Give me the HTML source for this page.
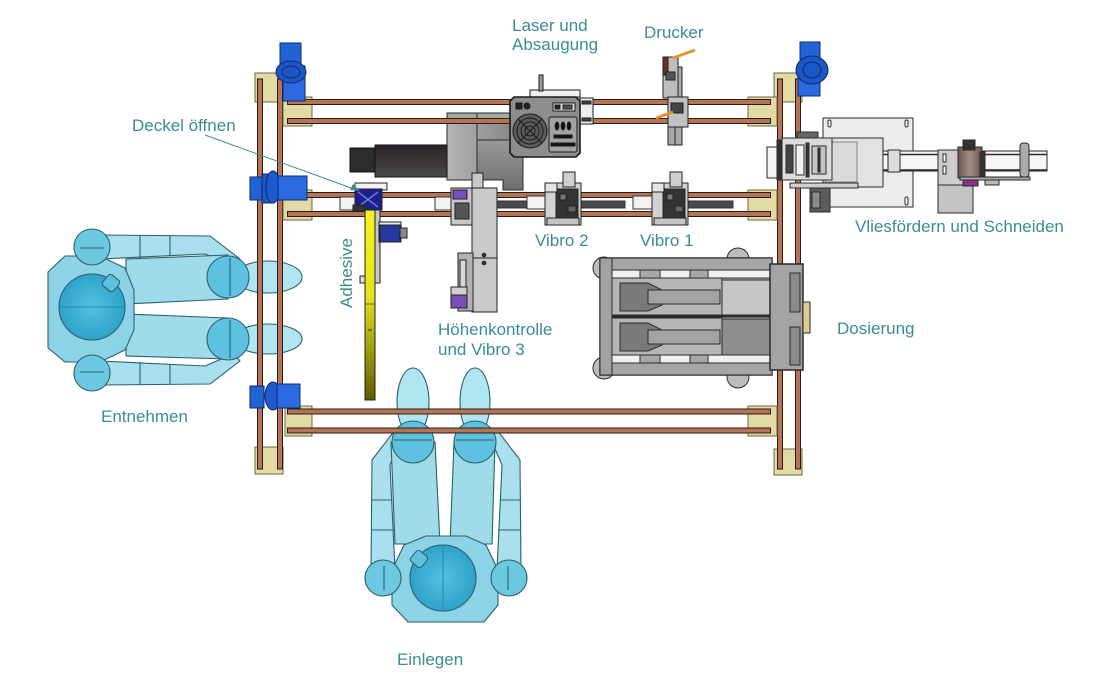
<!DOCTYPE html>
<html><head><meta charset="utf-8">
<style>
html,body{margin:0;padding:0;background:#fff;}
svg{display:block;}
text{font-family:"Liberation Sans",Arial,sans-serif;font-size:17px;fill:#3b8d8e;}
</style></head><body>
<svg width="1113" height="684" viewBox="0 0 1113 684" xmlns="http://www.w3.org/2000/svg">
<defs>
 <linearGradient id="yel" x1="0" y1="0" x2="0" y2="1">
  <stop offset="0" stop-color="#f6f41e"/>
  <stop offset="0.45" stop-color="#e6e21c"/>
  <stop offset="1" stop-color="#5e5c00"/>
 </linearGradient>
 <linearGradient id="cyl" x1="0" y1="0" x2="0" y2="1">
  <stop offset="0" stop-color="#2a2228"/>
  <stop offset="1" stop-color="#4a4a4a"/>
 </linearGradient>
 <linearGradient id="gblk" x1="0" y1="0" x2="1" y2="0">
  <stop offset="0" stop-color="#b4b4b4"/>
  <stop offset="1" stop-color="#8a8a8a"/>
 </linearGradient>
 <linearGradient id="gdark" x1="0" y1="0" x2="0" y2="1">
  <stop offset="0" stop-color="#9a9a9a"/>
  <stop offset="1" stop-color="#6e6e6e"/>
 </linearGradient>
 <radialGradient id="head" cx="0.5" cy="0.5" r="0.5">
  <stop offset="0" stop-color="#52c4e2"/>
  <stop offset="1" stop-color="#2ea2c8"/>
 </radialGradient>
 <linearGradient id="roll" x1="0" y1="0" x2="1" y2="0">
  <stop offset="0" stop-color="#6e5550"/>
  <stop offset="0.5" stop-color="#a58c84"/>
  <stop offset="1" stop-color="#6e5550"/>
 </linearGradient>
</defs>

<!-- ===== LEFT HUMAN ===== -->
<g stroke="#2c5f6d" stroke-width="1.1" stroke-linejoin="round">
 <path d="M100 235 L210 236 L240 259 L233 266 L205 254 L100 259 Z" fill="#aae0ee"/>
 <path d="M100 385 L210 384 L240 361 L233 354 L205 366 L100 361 Z" fill="#aae0ee"/>
 <line x1="140" y1="236" x2="140" y2="258" /><line x1="170" y1="236" x2="170" y2="256"/>
 <line x1="140" y1="362" x2="140" y2="384" /><line x1="170" y1="364" x2="170" y2="384"/>
 <ellipse cx="268" cy="277" rx="34" ry="16" fill="#b0e5f2"/>
 <ellipse cx="268" cy="339" rx="34" ry="15" fill="#b0e5f2"/>
 <path d="M126 259 L228 255 L228 299 L126 304 Z" fill="#a0dbea"/>
 <path d="M126 314 L228 318 L228 359 L126 356 Z" fill="#a0dbea"/>
 <circle cx="228" cy="277" r="21" fill="#5cc2df"/>
 <circle cx="228" cy="339" r="21" fill="#5cc2df"/>
 <line x1="230" y1="258" x2="230" y2="296"/><line x1="230" y1="320" x2="230" y2="358"/>
 <path d="M48 272 L65 256 L100 256 L125 268 L134 290 L134 330 L125 350 L100 362 L65 362 L48 348 Z" fill="#8cd3e7"/>
 <circle cx="92" cy="247" r="18" fill="#6cc7e1"/>
 <circle cx="92" cy="373" r="18" fill="#6cc7e1"/>
 <line x1="80" y1="248" x2="104" y2="248"/><line x1="80" y1="372" x2="104" y2="372"/>
 <circle cx="92" cy="307" r="33" fill="url(#head)"/>
 <rect x="104" y="276" width="14" height="14" rx="3" fill="#5cc2de" transform="rotate(40 111 283)"/>
 <line x1="60" y1="307" x2="124" y2="307" stroke="#2a7d9a" stroke-width="2" opacity="0.4"/>
</g>

<!-- ===== BOTTOM HUMAN ===== -->
<g transform="translate(443,578) rotate(-90) translate(-92,-307)" stroke="#2c5f6d" stroke-width="1.1" stroke-linejoin="round">
 <path d="M100 235 L210 236 L240 259 L233 266 L205 254 L100 259 Z" fill="#aae0ee"/>
 <path d="M100 385 L210 384 L240 361 L233 354 L205 366 L100 361 Z" fill="#aae0ee"/>
 <line x1="140" y1="236" x2="140" y2="258" /><line x1="170" y1="236" x2="170" y2="256"/>
 <line x1="140" y1="362" x2="140" y2="384" /><line x1="170" y1="364" x2="170" y2="384"/>
 <ellipse cx="268" cy="277" rx="34" ry="16" fill="#b0e5f2"/>
 <ellipse cx="268" cy="339" rx="34" ry="15" fill="#b0e5f2"/>
 <path d="M126 259 L228 255 L228 299 L126 304 Z" fill="#a0dbea"/>
 <path d="M126 314 L228 318 L228 359 L126 356 Z" fill="#a0dbea"/>
 <circle cx="228" cy="277" r="21" fill="#5cc2df"/>
 <circle cx="228" cy="339" r="21" fill="#5cc2df"/>
 <line x1="230" y1="258" x2="230" y2="296"/><line x1="230" y1="320" x2="230" y2="358"/>
 <path d="M48 272 L65 256 L100 256 L125 268 L134 290 L134 330 L125 350 L100 362 L65 362 L48 348 Z" fill="#8cd3e7"/>
 <circle cx="92" cy="247" r="18" fill="#6cc7e1"/>
 <circle cx="92" cy="373" r="18" fill="#6cc7e1"/>
 <line x1="80" y1="248" x2="104" y2="248"/><line x1="80" y1="372" x2="104" y2="372"/>
 <circle cx="92" cy="307" r="33" fill="url(#head)"/>
 <rect x="104" y="276" width="14" height="14" rx="3" fill="#5cc2de" transform="rotate(40 111 283)"/>
 <line x1="60" y1="307" x2="124" y2="307" stroke="#2a7d9a" stroke-width="2" opacity="0.4"/>
</g>

<!-- ===== LASER BACK BLOCK & CYLINDER ===== -->
<g stroke="#2a2a2a" stroke-width="1">
 <rect x="447" y="113" width="63" height="67" fill="url(#gblk)"/>
 <rect x="447" y="113" width="63" height="9" fill="#a4aa9e"/>
 <line x1="477" y1="113" x2="477" y2="180"/>
 <path d="M477 140 H523 V190 H503 V180 H477 Z" fill="url(#gdark)"/>
 <rect x="350" y="148" width="26" height="24" fill="#2c2c2c" stroke="#111"/>
 <rect x="375" y="145" width="72" height="32" fill="url(#cyl)" stroke="#111"/>
</g>

<!-- ===== FRAME ===== -->
<g stroke="#6a6440" stroke-width="1" fill="#e2dba4">
 <rect x="255" y="73" width="28" height="29"/>
 <rect x="255" y="447" width="28" height="27"/>
 <rect x="774" y="73" width="28" height="29"/>
 <rect x="774" y="449" width="28" height="26"/>
</g>
<g stroke="#2b1a10" stroke-width="1" fill="#b47458">
 <rect x="257.5" y="79" width="5" height="390"/>
 <rect x="277.5" y="79" width="5" height="390"/>
 <rect x="777.5" y="79" width="5" height="390"/>
 <rect x="795.5" y="79" width="5" height="390"/>
</g>
<g stroke="#6a6440" stroke-width="1" fill="#e2dba4">
 <rect x="283" y="97" width="29" height="29"/>
 <rect x="283" y="190" width="29" height="30"/>
 <rect x="285" y="406" width="27" height="30"/>
 <rect x="748" y="97" width="29" height="29"/>
 <rect x="748" y="190" width="29" height="30"/>
 <rect x="748" y="406" width="29" height="30"/>
</g>
<g stroke="#2b1a10" stroke-width="1" fill="#b47458">
 <rect x="287.5" y="99.5" width="483" height="5"/>
 <rect x="287.5" y="118.5" width="483" height="5"/>
 <rect x="287.5" y="192.5" width="483" height="5"/>
 <rect x="287.5" y="211.5" width="483" height="5"/>
 <rect x="287.5" y="409" width="483" height="5"/>
 <rect x="287.5" y="428" width="483" height="5"/>
</g>

<!-- ===== BLUE MOTORS ===== -->
<g stroke="#0b2a6e" stroke-width="1">
 <rect x="280" y="43" width="21" height="22" fill="#2263d4"/>
 <rect x="283" y="66" width="22" height="35" fill="#2c6ae0"/>
 <ellipse cx="291" cy="72" rx="15" ry="11" fill="#1d57c6"/>
 <ellipse cx="291" cy="72" rx="9" ry="6" fill="none"/>
 <rect x="250" y="177" width="12" height="23" fill="#2263d4"/>
 <rect x="262" y="174" width="12" height="29" fill="#1d57c6"/>
 <ellipse cx="273" cy="187" rx="7" ry="16" fill="#1f5bcc"/>
 <rect x="278" y="176" width="29" height="24" fill="#2c6ae0"/>
 <rect x="250" y="386" width="14" height="22" fill="#2263d4"/>
 <ellipse cx="273" cy="396" rx="8" ry="14" fill="#1f5bcc"/>
 <rect x="277" y="384" width="23" height="24" fill="#2c6ae0"/>
 <rect x="800" y="42" width="20" height="24" fill="#2263d4"/>
 <rect x="798" y="68" width="22" height="28" fill="#2c6ae0"/>
 <ellipse cx="812" cy="70" rx="16" ry="14" fill="#1d57c6"/>
 <ellipse cx="812" cy="70" rx="9" ry="8" fill="none"/>
</g>

<!-- ===== MIDDLE RAIL COMPONENTS ===== -->
<g stroke="#333" stroke-width="1">
 <rect x="497" y="201" width="48" height="7" fill="#4a4a4a"/>
 <rect x="580" y="201" width="45" height="7" fill="#4a4a4a"/>
 <rect x="687" y="201" width="46" height="7" fill="#4a4a4a"/>
 <rect x="340" y="197" width="15" height="13" fill="#f2f2f2"/>
 <rect x="435" y="197" width="18" height="13" fill="#f2f2f2"/>
 <rect x="633" y="196" width="19" height="13" fill="#f2f2f2"/>
 <rect x="527" y="196" width="18" height="13" fill="#f2f2f2"/>
</g>

<!-- Vibro 2 -->
<g stroke="#222" stroke-width="1">
 <rect x="545" y="183" width="36" height="42" fill="#d2d2d2"/>
 <rect x="563" y="172" width="12" height="15" fill="#cfcfcf"/>
 <rect x="556" y="189" width="22" height="29" fill="#333"/>
 <rect x="545" y="183" width="12" height="9" fill="#e4e4e4"/>
 <rect x="560" y="194" width="6" height="6" fill="#777"/>
 <rect x="568" y="206" width="8" height="6" fill="#666"/>
 <rect x="547" y="218" width="32" height="7" fill="#c4c4c4"/>
</g>
<!-- Vibro 1 -->
<g stroke="#222" stroke-width="1">
 <rect x="652" y="183" width="36" height="42" fill="#d2d2d2"/>
 <rect x="670" y="172" width="12" height="15" fill="#cfcfcf"/>
 <rect x="663" y="189" width="22" height="29" fill="#333"/>
 <rect x="652" y="183" width="12" height="9" fill="#e4e4e4"/>
 <rect x="667" y="194" width="6" height="6" fill="#777"/>
 <rect x="675" y="206" width="8" height="6" fill="#666"/>
 <rect x="654" y="218" width="32" height="7" fill="#c4c4c4"/>
</g>

<!-- Höhenkontrolle / Vibro 3 -->
<g stroke="#222" stroke-width="1">
 <rect x="451" y="188" width="22" height="37" fill="#c8c8c8"/>
 <rect x="453" y="190" width="14" height="9" fill="#7650b8"/>
 <rect x="455" y="203" width="14" height="16" fill="#555"/>
 <rect x="472" y="173" width="11" height="15" fill="#c8c8c8"/>
 <rect x="472" y="188" width="25" height="124" fill="#c9c9c9"/>
 <line x1="472" y1="258" x2="497" y2="258"/>
 <circle cx="484" cy="255" r="1.8" fill="#333"/>
 <circle cx="484" cy="263" r="1.8" fill="#333"/>
 <rect x="458" y="253" width="15" height="58" fill="#b2b2b2"/>
 <rect x="460" y="260" width="6" height="28" fill="#d8d8d8"/>
 <rect x="451" y="287" width="16" height="21" fill="#7650b8"/>
 <rect x="451" y="287" width="16" height="8" fill="#d0d0d0"/>
</g>

<!-- Adhesive -->
<g stroke="#222" stroke-width="1">
 <rect x="375" y="210" width="5" height="73" fill="#c8c8c8"/>
 <rect x="365" y="210" width="10" height="190" fill="url(#yel)"/>
 <line x1="365" y1="304" x2="375" y2="304" stroke="#6a6a00"/>
 <line x1="368" y1="330" x2="372" y2="330"/>
 <rect x="360" y="276" width="5" height="7" fill="#ddd"/>
 <rect x="355" y="183" width="32" height="7" fill="#f3f3f3"/>
 <rect x="355" y="189" width="27" height="21" fill="#1e1e8c"/>
 <path d="M358 192 L378 207 M378 192 L358 207" stroke="#6a7ad8" stroke-width="1.5"/>
 <rect x="379" y="222" width="22" height="20" fill="#f0f0f0"/>
 <rect x="380" y="225" width="20" height="17" fill="#2738a0"/>
 <rect x="400" y="228" width="7" height="10" fill="#888"/>
 <rect x="353" y="205" width="12" height="6" fill="#333"/>
</g>

<!-- ===== LASER BOX ===== -->
<g stroke="#1a1a1a" stroke-width="1">
 <rect x="530" y="90" width="50" height="7" fill="#f0f0f0"/>
 <rect x="539" y="75" width="4" height="16" fill="#9a9a9a"/>
 <rect x="580" y="98" width="13" height="26" fill="#eeeeee"/>
 <rect x="582" y="101" width="9" height="3" fill="#444"/>
 <rect x="582" y="118" width="9" height="3" fill="#444"/>
 <path d="M514 97 H576 L580 101 V153 L576 157 H514 L510 153 V101 Z" fill="#8d8d8d" stroke-width="1.6"/>
 <circle cx="530" cy="131" r="17" fill="#5a5a5a"/>
 <circle cx="530" cy="131" r="13" fill="none"/>
 <circle cx="530" cy="131" r="9" fill="none"/>
 <circle cx="530" cy="131" r="5" fill="none"/>
 <path d="M518 119 L542 143 M542 119 L518 143"/>
 <rect x="549" y="117" width="28" height="35" rx="2" fill="#a2a2a2"/>
 <ellipse cx="557" cy="126" rx="1.8" ry="4" fill="#111"/>
 <ellipse cx="563" cy="126" rx="1.8" ry="4" fill="#111"/>
 <ellipse cx="569" cy="126" rx="1.8" ry="4" fill="#111"/>
 <rect x="554" y="135" width="18" height="3" fill="#111"/>
 <rect x="551" y="143" width="24" height="3" fill="#111"/>
 <rect x="516" y="103" width="6" height="6" fill="#222"/>
 <circle cx="527" cy="106" r="3" fill="#222"/>
 <rect x="553" y="103" width="22" height="8" fill="#ddd"/>
 <rect x="555" y="105" width="5" height="4" fill="#222"/>
 <rect x="563" y="105" width="9" height="4" fill="#555"/>
</g>

<!-- ===== DRUCKER ===== -->
<g stroke="#222" stroke-width="1">
 <rect x="668" y="67" width="14" height="78" fill="#a9a9a9"/>
 <line x1="675" y1="67" x2="675" y2="145"/>
 <rect x="663" y="57" width="15" height="41" fill="#bdbdbd"/>
 <rect x="663" y="57" width="5" height="18" fill="#6a3020"/>
 <rect x="666" y="72" width="9" height="8" fill="#555"/>
 <rect x="668" y="97" width="20" height="30" fill="#c2c2c2"/>
 <rect x="671" y="103" width="12" height="10" fill="#444"/>
 <line x1="673" y1="58" x2="695" y2="50" stroke="#e0962a" stroke-width="3"/>
 <line x1="656" y1="118" x2="673" y2="112" stroke="#e0962a" stroke-width="3"/>
</g>

<!-- ===== DOSIERUNG ===== -->
<g stroke="#2a2a2a" stroke-width="1">
 <circle cx="604" cy="268" r="11" fill="#bcbcbc"/>
 <circle cx="604" cy="368" r="11" fill="#bcbcbc"/>
 <circle cx="738" cy="259" r="11" fill="#bcbcbc"/>
 <circle cx="738" cy="377" r="11" fill="#bcbcbc"/>
 <rect x="600" y="258" width="172" height="117" fill="#b0b0b0" stroke-width="1.5"/>
 <rect x="600" y="258" width="172" height="12" fill="#a6a6a6"/>
 <rect x="600" y="363" width="172" height="12" fill="#a6a6a6"/>
 <rect x="612" y="270" width="158" height="8" fill="#f0f0f0"/>
 <rect x="612" y="355" width="158" height="8" fill="#f0f0f0"/>
 <rect x="640" y="270" width="20" height="8" fill="#a8a8a8"/>
 <rect x="690" y="270" width="18" height="8" fill="#a8a8a8"/>
 <rect x="640" y="355" width="20" height="8" fill="#a8a8a8"/>
 <rect x="690" y="355" width="18" height="8" fill="#a8a8a8"/>
 <rect x="600" y="258" width="12" height="117" fill="#a2a2a2"/>
 <rect x="612" y="278" width="110" height="37" fill="#b6b6b6"/>
 <rect x="612" y="318" width="110" height="37" fill="#b6b6b6"/>
 <path d="M620 283 H648 L662 290 V305 L648 311 H620 Z" fill="#7a7a7a"/>
 <path d="M620 323 H648 L662 330 V345 L648 351 H620 Z" fill="#7a7a7a"/>
 <rect x="648" y="290" width="72" height="14" fill="#a4a4a4"/>
 <rect x="648" y="330" width="72" height="14" fill="#a4a4a4"/>
 <rect x="722" y="280" width="48" height="35" fill="#c6c6c6"/>
 <rect x="722" y="319" width="48" height="36" fill="#8e8e8e"/>
 <line x1="612" y1="316.5" x2="770" y2="316.5" stroke-width="2"/>
 <rect x="770" y="264" width="33" height="106" fill="#a4a4a4" stroke-width="1.5"/>
 <rect x="790" y="273" width="10" height="39" fill="#8a8a8a"/>
 <rect x="790" y="327" width="10" height="38" fill="#8a8a8a"/>
 <rect x="803" y="302" width="7" height="31" fill="#d8cf8c"/>
</g>

<!-- ===== VLIESFÖRDERN ===== -->
<g stroke="#2a2a2a" stroke-width="1">
 <rect x="823" y="118" width="90" height="89" fill="#ececec"/>
 <rect x="828" y="120" width="3" height="7" rx="1.5" fill="#fff"/>
 <rect x="905" y="120" width="3" height="7" rx="1.5" fill="#fff"/>
 <rect x="905" y="197" width="3" height="8" rx="1.5" fill="#fff"/>
 <rect x="823" y="138" width="60" height="49" fill="#e2e2e2"/>
 <rect x="825" y="142" width="32" height="40" fill="#dadada" stroke="#888"/>
 <rect x="883" y="151" width="164" height="20" fill="#f6f6f6"/>
 <line x1="883" y1="154.5" x2="1047" y2="154.5" stroke-width="1.5"/>
 <line x1="883" y1="170" x2="1047" y2="170" stroke-width="1.5"/>
 <rect x="888" y="150" width="12" height="22" fill="#ddd"/>
 <rect x="938" y="150" width="35" height="63" fill="#cdcdcd"/>
 <rect x="938" y="185" width="35" height="28" fill="#c4c4c4"/>
 <rect x="943" y="154" width="3" height="8" fill="#fff"/>
 <rect x="943" y="166" width="3" height="8" fill="#fff"/>
 <rect x="958" y="147" width="24" height="31" fill="url(#roll)"/>
 <rect x="963" y="140" width="12" height="10" fill="#333"/>
 <rect x="980" y="152" width="5" height="24" fill="#333"/>
 <rect x="960" y="177" width="70" height="3" fill="#aaa"/>
 <rect x="963" y="180" width="15" height="6" fill="#8a2f8a"/>
 <rect x="985" y="180" width="14" height="5" fill="#bbb"/>
 <rect x="1020" y="143" width="9" height="34" rx="3" fill="#aaaaaa"/>
 <!-- left assembly -->
 <rect x="767" y="147" width="13" height="31" fill="#f4f4f4"/>
 <rect x="777" y="140" width="4" height="40" fill="#333"/>
 <rect x="782" y="138" width="50" height="42" fill="#dcdcdc"/>
 <rect x="797" y="132" width="21" height="6" fill="#666"/>
 <rect x="786" y="145" width="7" height="28" fill="#444"/>
 <rect x="796" y="145" width="8" height="30" fill="#f2f2f2"/>
 <rect x="806" y="143" width="3" height="34" fill="#333"/>
 <rect x="812" y="146" width="14" height="28" fill="#c4c4c4"/>
 <rect x="818" y="148" width="2" height="24" fill="#333"/>
 <rect x="790" y="183" width="68" height="5" fill="#cfcfcf"/>
 <rect x="810" y="188" width="20" height="24" fill="#5c5c5c"/>
 <rect x="812" y="192" width="8" height="16" fill="#8a8a8a"/>
</g>

<!-- ===== DECKEL ARROW ===== -->
<line x1="205" y1="135" x2="354" y2="189" stroke="#3b8d8e" stroke-width="1"/>
<path d="M360 191 L350 190 L353 184 Z" fill="#3b8d8e"/>

<!-- ===== LABELS ===== -->
<text x="512" y="31">Laser und</text>
<text x="512" y="50">Absaugung</text>
<text x="644" y="38">Drucker</text>
<text x="132" y="131">Deckel öffnen</text>
<text x="535" y="246">Vibro 2</text>
<text x="640" y="246">Vibro 1</text>
<text x="855" y="232">Vliesfördern und Schneiden</text>
<text transform="translate(352,308) rotate(-90)" x="0" y="0">Adhesive</text>
<text x="438" y="335">Höhenkontrolle</text>
<text x="438" y="355">und Vibro 3</text>
<text x="837" y="334">Dosierung</text>
<text x="101" y="422">Entnehmen</text>
<text x="397" y="665">Einlegen</text>
</svg>
</body></html>
